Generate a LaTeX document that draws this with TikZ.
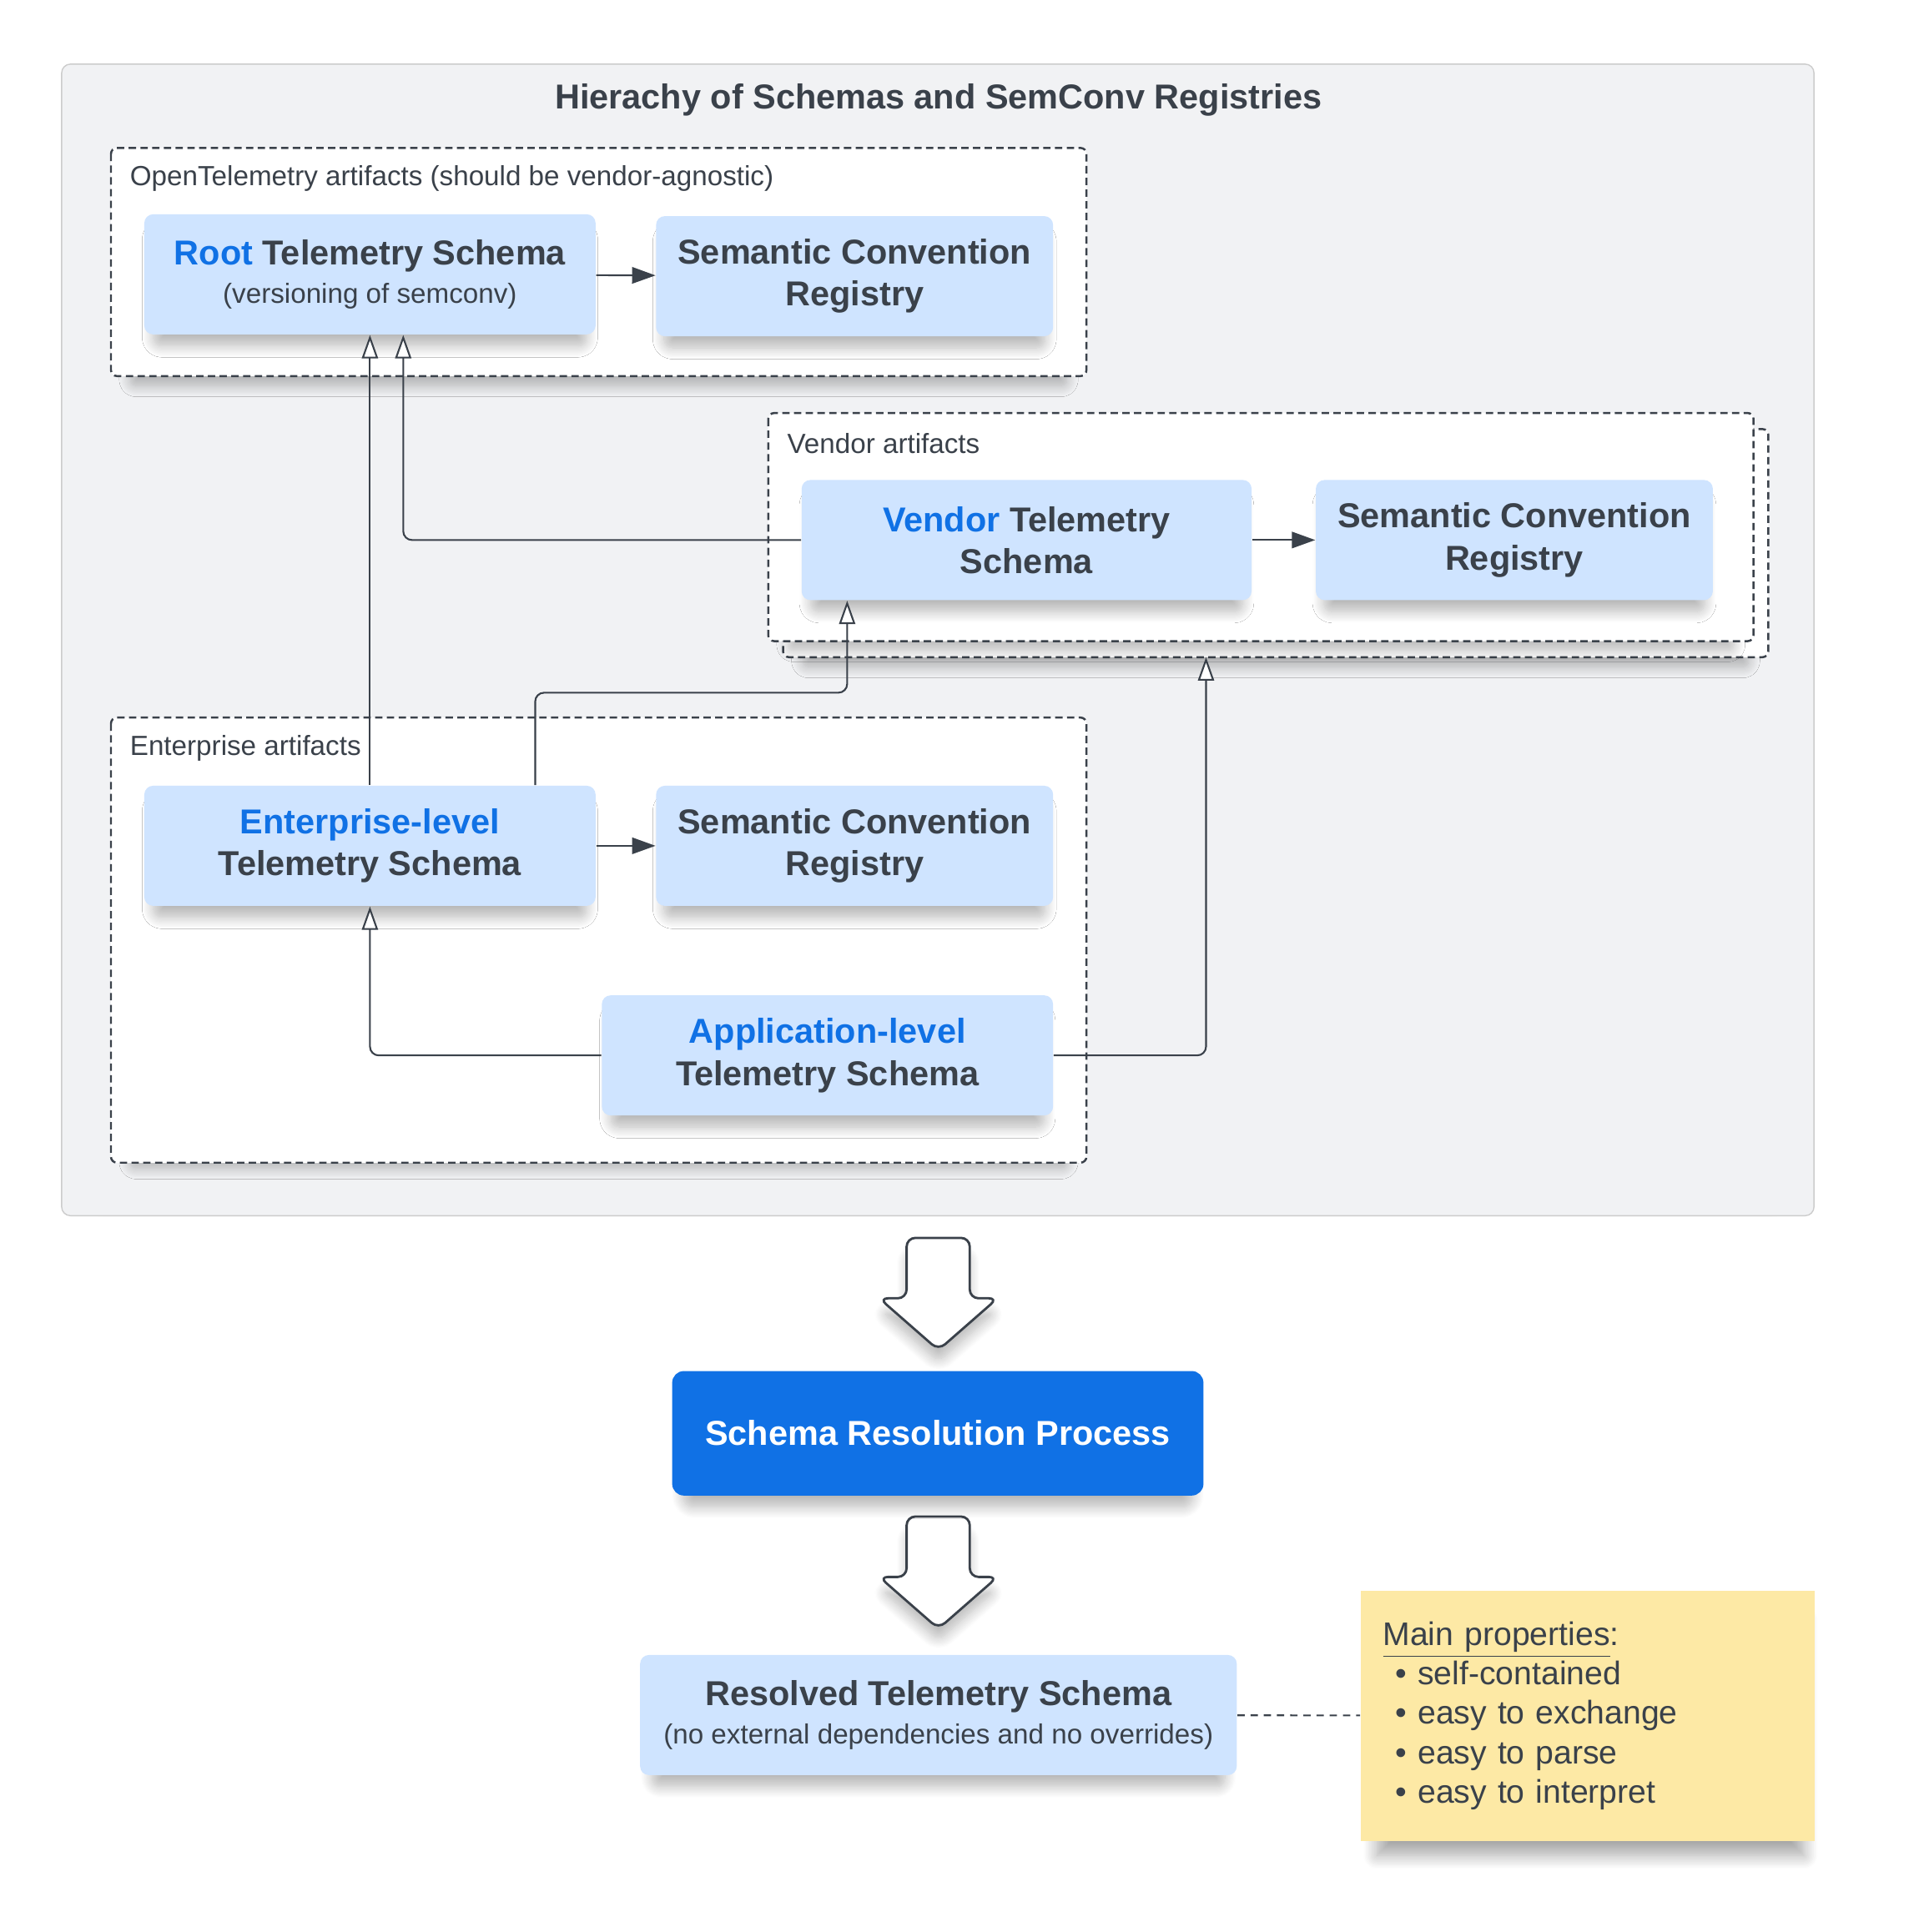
\documentclass[tikz,border=0pt]{standalone}
\usepackage{fontspec}
\setmainfont{Liberation Sans}
\usetikzlibrary{arrows.meta,calc,shadows.blur}
\definecolor{inkgray}{HTML}{3A414A}
\definecolor{boxblue}{HTML}{CFE4FF}
\definecolor{linkblue}{HTML}{1071E5}
\definecolor{panelgray}{HTML}{F1F2F4}
\definecolor{noteyellow}{HTML}{FDE9A5}

\begin{document}
\begin{tikzpicture}[x=0.01478cm, y=-0.01478cm,
  soft/.style={blur shadow={shadow scale=0.96, shadow xshift=0pt, shadow yshift=-5pt, shadow blur radius=4pt,
    shadow blur steps=12, shadow opacity=28}},
  schemabox/.style={fill=boxblue, rounded corners=3pt, text=inkgray, align=center, inner sep=0pt,
    minimum height=1.44cm, soft, font=\bfseries\fontsize{11.8}{14.3}\selectfont},
  group/.style={draw=inkgray, line width=0.7pt, dash pattern=on 2.5pt off 1.5pt, fill=white, rounded corners=2pt, soft},
  grouplabel/.style={anchor=west, inner sep=0pt, text=inkgray, font=\fontsize{9.45}{11}\selectfont},
  inherit/.style={draw=inkgray, line width=0.6pt, rounded corners=3pt, -{Triangle[fill=white, length=8pt, width=5.5pt]}},
  flow/.style={draw=inkgray, line width=0.6pt, -{Triangle[length=8pt, width=5.6pt]}},
  bigarrow/.style={draw=inkgray, line width=0.8pt, fill=white, rounded corners=3pt, soft}]
\useasboundingbox (0,0) rectangle (1560.2,1567);

% Registry panel
\draw[draw=black!20, fill=panelgray, rounded corners=3pt, soft] (50,52) rectangle (1471,986);
\node[text=inkgray, font=\bfseries\fontsize{11.8}{14}\selectfont] (title) at (761,81) {Hierachy of Schemas and SemConv Registries};

% Artifact groups
\draw[group] (90,120) rectangle (881,305);
\node[grouplabel] (otellabel) at (105,145) {OpenTelemetry artifacts (should be vendor-agnostic)};
\draw[group] (635,348) rectangle (1434,533);
\draw[group] (623,335) rectangle (1422,520);
\node[grouplabel] (vendorlabel) at (638,360) {Vendor artifacts};
\draw[group] (90,582) rectangle (881,943);
\node[grouplabel] (entlabel) at (105,607) {Enterprise artifacts};
\coordinate (vendorback) at (978,533);

% Schemas and registries
\node[schemabox, minimum width=5.41cm] (root) at (300,222.5) {{\color{linkblue}Root} Telemetry Schema\\[-1.2pt]
  {\mdseries\fontsize{9.45}{11}\selectfont (versioning of semconv)}};
\node[schemabox, minimum width=4.76cm] (semconv1) at (693,224) {Semantic Convention\\Registry};
\node[schemabox, minimum width=5.395cm] (vendor) at (832.5,438) {{\color{linkblue}Vendor} Telemetry\\Schema};
\node[schemabox, minimum width=4.76cm] (semconv2) at (1228,438) {Semantic Convention\\Registry};
\node[schemabox, minimum width=5.41cm] (ent) at (300,686) {{\color{linkblue}Enterprise-level}\\Telemetry Schema};
\node[schemabox, minimum width=4.76cm] (semconv3) at (693,686) {Semantic Convention\\Registry};
\node[schemabox, minimum width=5.41cm] (app) at (671,856) {{\color{linkblue}Application-level}\\Telemetry Schema};

% Registry links
\draw[flow] (root) -- (semconv1);
\draw[flow] (vendor) -- (semconv2);
\draw[flow] (ent) -- (semconv3);

% Inheritance
\draw[inherit] (ent.north) -- (root.south);
\draw[inherit] (vendor.west) -| ($(root.south)+(27,0)$);
\draw[inherit] ($(ent.north)+(134,0)$) -- ++(0,-75) -| ($(vendor.south)+(-145.5,0)$);
\draw[inherit] (app.west) -| (ent.south);
\draw[inherit] (app.east) -| (vendorback);

% Resolution
\foreach \y in {1004,1230}
  \draw[bigarrow] (735.2,\y) -- (735.2,\y+49) -- (713,\y+49) -- (761,\y+91)
    -- (809,\y+49) -- (786.4,\y+49) -- (786.4,\y) -- cycle;
\node[fill=linkblue, rounded corners=4pt, text=white, minimum width=6.37cm, minimum height=1.493cm, soft,
  font=\bfseries\fontsize{11.8}{14}\selectfont] (process) at (760.5,1162.5) {Schema Resolution Process};
\node[schemabox, minimum width=7.154cm] (resolved) at (761,1391) {Resolved Telemetry Schema\\[-1.2pt]
  {\mdseries\fontsize{9.45}{11}\selectfont (no external dependencies and no overrides)}};

% Properties note
\node[anchor=west, fill=noteyellow, text=inkgray, minimum height=3.0cm, text width=4.91cm, inner xsep=0.266cm,
  align=left, font=\fontsize{11.15}{13.45}\selectfont,
  blur shadow={shadow scale=0.94, shadow xshift=1pt, shadow yshift=-8pt, shadow blur radius=5pt,
    shadow blur steps=12, shadow opacity=35}] (props) at (1103,1391.5)
  {\underline{Main properties}:\\
   \hspace*{0.15cm}\textbullet\ self-contained\\
   \hspace*{0.15cm}\textbullet\ easy to exchange\\
   \hspace*{0.15cm}\textbullet\ easy to parse\\
   \hspace*{0.15cm}\textbullet\ easy to interpret};
\draw[draw=inkgray, line width=0.6pt, dash pattern=on 2.5pt off 2pt] (resolved) -- (props);
\end{tikzpicture}
\end{document}
